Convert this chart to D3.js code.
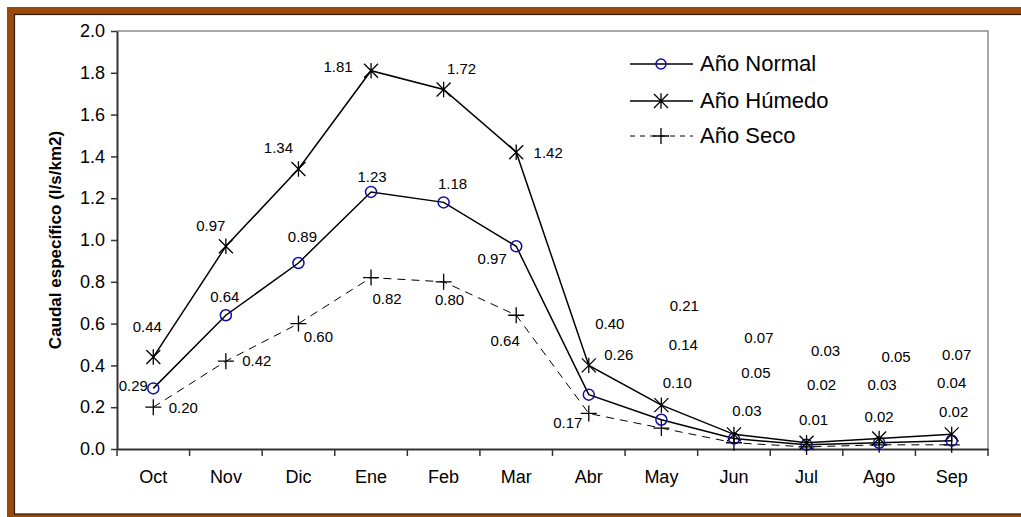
<!DOCTYPE html>
<html><head><meta charset="utf-8">
<script src="https://cdn.jsdelivr.net/npm/d3@7"></script>
<style>body{margin:0;background:#fff}svg{display:block}text{font-family:"Liberation Sans",Arial,sans-serif}</style>
</head><body>
<script>
const months = ["Oct","Nov","Dic","Ene","Feb","Mar","Abr","May","Jun","Jul","Ago","Sep"];
const normal = [0.29,0.64,0.89,1.23,1.18,0.97,0.26,0.14,0.05,0.02,0.03,0.04];
const humedo = [0.44,0.97,1.34,1.81,1.72,1.42,0.40,0.21,0.07,0.03,0.05,0.07];
const seco   = [0.20,0.42,0.60,0.82,0.80,0.64,0.17,0.10,0.03,0.01,0.02,0.02];
const yTicks = [0,0.2,0.4,0.6,0.8,1.0,1.2,1.4,1.6,1.8,2.0];
const seriesNames = ["Año Normal","Año Húmedo","Año Seco"];
const yTitle = "Caudal específico (l/s/km2)";

// label offsets (px) relative to each point
const offNormal = [[-20,-3],[-1,-19],[4,-26],[1,-15],[9,-19],[-24,12],[30,-40],[22,-75],[22,-66],[15,-60],[3,-58],[0,-58]];
const offHumedo = [[-6,-31],[-15,-21],[-20,-21],[-33,-4],[18,-21],[32,0],[21,-42],[23,-100],[25,-97],[19,-92],[17,-82],[5,-80]];
const offSeco   = [[30,0],[31,-1],[20,13],[16,21],[6,18],[-11,25],[-21,9],[16,-46],[13,-32],[7,-27],[0,-28],[2,-33]];

const W=1021,H=517;
const svg=d3.select("body").append("svg").attr("width",W).attr("height",H);
// frame
svg.append("rect").attr("x",7).attr("y",7).attr("width",1030).attr("height",520).attr("fill","#9A4A06");
svg.append("rect").attr("x",14.5).attr("y",14.5).attr("width",1030).attr("height",499.5).attr("fill","#fff").attr("stroke","#2a1a0a").attr("stroke-width",1.2);

const L=117,R=988,T=31,B=449;
const x=d3.scaleBand().domain(months).range([L,R]);
const y=d3.scaleLinear().domain([0,2]).range([B,T]);
const cx=m=>x(m)+x.bandwidth()/2;

// plot border (top/right gray)
svg.append("path").attr("d",`M${L},${T}H${R}V${B}`).attr("fill","none").attr("stroke","#8c8c8c").attr("stroke-width",1.5);

// y axis
const ya=svg.append("g").attr("transform",`translate(${L},0)`).call(d3.axisLeft(y).tickValues(yTicks).tickFormat(d3.format(".1f")).tickSize(6).tickSizeOuter(0));
ya.select(".domain").attr("stroke","#333").attr("stroke-width",2);
ya.selectAll(".tick line").attr("stroke","#333").attr("stroke-width",1.5);
ya.selectAll(".tick text").attr("font-size",18).attr("fill","#000").attr("x",-12).attr("font-family","Liberation Sans, Arial, sans-serif");

// x axis
const xa=svg.append("g").attr("transform",`translate(0,${B})`).call(d3.axisBottom(x).tickSize(0).tickSizeOuter(0));
xa.select(".domain").attr("stroke","#333").attr("stroke-width",2);
xa.selectAll(".tick text").attr("font-size",18).attr("fill","#000").attr("dy","0").attr("y",34).attr("font-family","Liberation Sans, Arial, sans-serif");
// tick marks at band boundaries
const bounds=months.map(m=>x(m)).concat([R]);
svg.append("g").selectAll("line").data(bounds).join("line")
  .attr("x1",d=>d).attr("x2",d=>d).attr("y1",B).attr("y2",B+7).attr("stroke","#333").attr("stroke-width",1.5);

// y title
svg.append("text").attr("transform",`translate(61,240) rotate(-90)`).attr("text-anchor","middle")
  .attr("font-size",17).attr("font-weight","bold").text(yTitle);

const line=d3.line().x((d,i)=>cx(months[i])).y(d=>y(d));

function asterisk(g,px,py,s){
  g.append("path").attr("d",`M${px-s},${py-s}L${px+s},${py+s}M${px-s},${py+s}L${px+s},${py-s}M${px},${py-s*1.1}V${py+s*1.1}`)
   .attr("stroke","#000").attr("stroke-width",1.3).attr("fill","none");
}
function plus(g,px,py,s){
  g.append("path").attr("d",`M${px-s},${py}H${px+s}M${px},${py-s}V${py+s}`)
   .attr("stroke","#000").attr("stroke-width",1.3).attr("fill","none");
}
function circ(g,px,py,r){
  g.append("circle").attr("cx",px).attr("cy",py).attr("r",r).attr("fill","none").attr("stroke","#1010A0").attr("stroke-width",1.5);
}

const gS=svg.append("g");
gS.append("path").datum(seco).attr("d",line).attr("fill","none").attr("stroke","#000").attr("stroke-width",1).attr("stroke-dasharray","8,6");
seco.forEach((v,i)=>plus(gS,cx(months[i]),y(v),8));
const gN=svg.append("g");
gN.append("path").datum(normal).attr("d",line).attr("fill","none").attr("stroke","#000").attr("stroke-width",1.5);
normal.forEach((v,i)=>circ(gN,cx(months[i]),y(v),5.5));
const gH=svg.append("g");
gH.append("path").datum(humedo).attr("d",line).attr("fill","none").attr("stroke","#000").attr("stroke-width",1.5);
humedo.forEach((v,i)=>asterisk(gH,cx(months[i]),y(v),7));

// data labels
function labels(arr,off){
  svg.append("g").selectAll("text").data(arr).join("text")
   .attr("x",(d,i)=>cx(months[i])+off[i][0]).attr("y",(d,i)=>y(d)+off[i][1])
   .attr("text-anchor","middle").attr("dominant-baseline","central").attr("font-size",15).attr("fill","#000")
   .text(d=>d.toFixed(2));
}
labels(humedo,offHumedo);labels(normal,offNormal);labels(seco,offSeco);

// legend
const lg=svg.append("g");
const rows=[64,101,136];
rows.forEach((ry,k)=>{
  const ln=lg.append("line").attr("x1",630).attr("x2",693).attr("y1",ry).attr("y2",ry).attr("stroke","#000").attr("stroke-width",k==2?1:1.5);
  if(k==2) ln.attr("stroke-dasharray","5,5");
  if(k==0) circ(lg,661,ry,5); else if(k==1) asterisk(lg,661,ry,7); else plus(lg,661,ry,8);
  lg.append("text").attr("x",700).attr("y",ry+7).attr("font-size",22).text(seriesNames[k]);
});
</script>
</body></html>
